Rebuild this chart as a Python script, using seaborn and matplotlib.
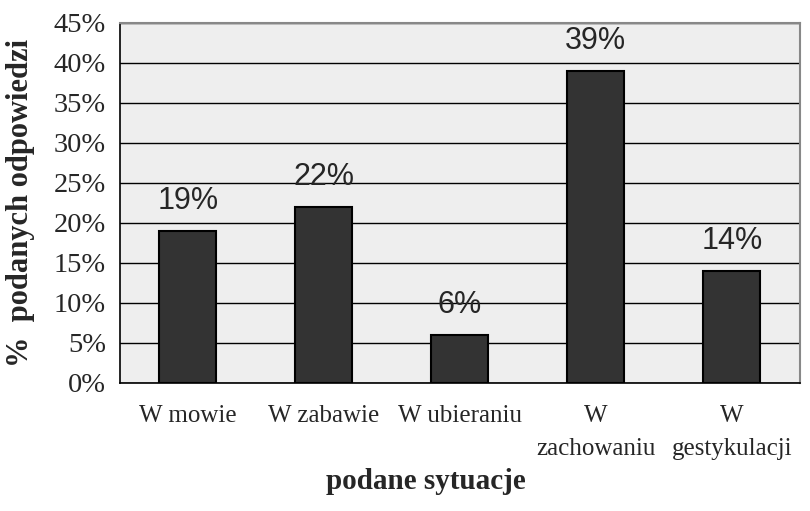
import pandas as pd
import numpy as np
import seaborn as sns
from matplotlib import pyplot as plt

categories = ['W mowie', 'W zabawie', 'W ubieraniu', 'W\nzachowaniu', 'W\ngestykulacji']
values = [19, 22, 6, 39, 14]

data = pd.DataFrame({'sytuacja': categories, 'procent': values})

sns.set_style('white')
plt.rcParams['font.family'] = ['Liberation Serif', 'DejaVu Serif']

fig = plt.figure(figsize=(8.1, 5.11), dpi=100)
ax = fig.add_axes([0.148, 0.2505, 0.8395, 0.7045])
ax.set_facecolor('#eeeeee')

sns.barplot(data=data, x='sytuacja', y='procent', color='#333333',
            edgecolor='black', linewidth=1.5, width=0.42, saturation=1, ax=ax, zorder=3)

ax.set_ylim(0, 45)
ax.set_xlim(-0.5, len(categories) - 0.5)
ax.set_yticks(np.arange(0, 46, 5))
ax.set_yticklabels([f'{v}%' for v in range(0, 46, 5)], fontsize=20.5)
ax.yaxis.grid(True, color='black', linewidth=1, zorder=0)
ax.set_axisbelow(True)

ax.set_xticks(range(len(categories)))
ax.set_xticklabels(categories, fontsize=18, linespacing=1.65)
ax.tick_params(axis='x', length=0, pad=16)
ax.set_xticks(np.arange(-0.5, len(categories)), minor=True)
ax.tick_params(axis='x', which='minor', length=7, width=1, color='black', direction='out')
ax.tick_params(axis='y', length=6, width=1, color='black', direction='out', pad=4)

for s in ['top', 'right']:
    ax.spines[s].set_color('#888888')
    ax.spines[s].set_linewidth(1.5)
for s in ['left', 'bottom']:
    ax.spines[s].set_color('black')
    ax.spines[s].set_linewidth(1.2)

for i, v in enumerate(values):
    ax.text(i, v + 1.9, f'{v}%', ha='center', va='bottom', fontsize=22,
            family=['Liberation Sans', 'DejaVu Sans'])

ax.set_xlabel('podane sytuacje', fontsize=21, fontweight='bold')
ax.xaxis.set_label_coords(0.45, -0.235)
ax.set_ylabel('%  podanych odpowiedzi', fontsize=22, fontweight='bold')
ax.yaxis.set_label_coords(-0.125, 0.5)

fig.savefig('out.png', dpi=100)
